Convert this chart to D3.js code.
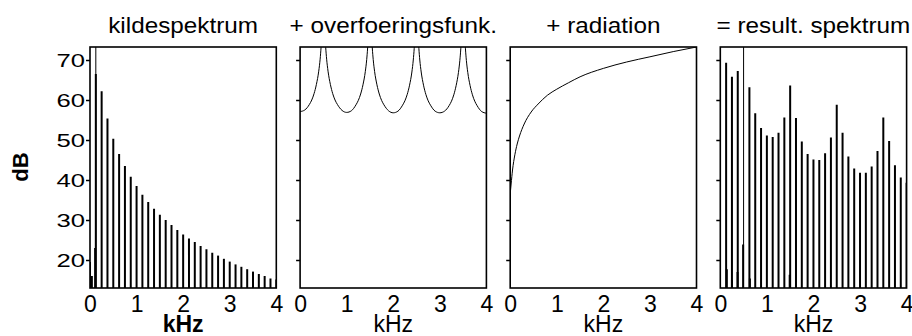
<!DOCTYPE html>
<html>
<head>
<meta charset="utf-8">
<script src="https://cdn.jsdelivr.net/npm/d3@7"></script>
<style>
	body { margin: 0; background: #fff; }
	svg { display: block; font-family: "Liberation Sans", Arial, sans-serif; }
</style>
</head>
<body>
<svg id="chart" width="912" height="336"></svg>
<script>
// panel titles
var titles = ["kildespektrum", "+ overfoeringsfunk.", "+ radiation", "= result. spektrum"];
var xTicks = [0, 1, 2, 3, 4];
var yTicks = [20, 30, 40, 50, 60, 70];

// harmonic frequencies (kHz), F0 = 125 Hz
var harmonics = [0.125, 0.25, 0.375, 0.5, 0.625, 0.75, 0.875, 1.0,
	1.125, 1.25, 1.375, 1.5, 1.625, 1.75, 1.875, 2.0,
	2.125, 2.25, 2.375, 2.5, 2.625, 2.75, 2.875, 3.0,
	3.125, 3.25, 3.375, 3.5, 3.625, 3.75, 3.875, 4.0];

// source spectrum (dB) at each harmonic
var sourceDb = [66.5, 62.2, 55.4, 50.3, 46.5, 43.5, 40.8, 38.5,
	36.3, 34.5, 32.8, 31.3, 30.0, 28.75, 27.5, 26.4,
	25.4, 24.5, 23.5, 22.7, 21.8, 21.1, 20.3, 19.6,
	18.9, 18.3, 17.7, 17.1, 16.5, 16.0, 15.4, 15.1];

// small low-frequency leakage lines in the source panel [kHz, dB]
var sourceLeak = [[0.0, 19.5], [0.04, 16], [0.11, 23], [0.125, 78]];

// resulting spectrum (dB) at each harmonic
var resultDb = [69.3, 65.8, 67.25, 80, 63.2, 56.7, 53.0, 51.1,
	50.75, 51.8, 55.6, 63.6, 55.5, 49.6, 46.5, 45.1,
	45.0, 46.7, 50.6, 58.8, 51.8, 45.9, 42.9, 41.8,
	41.8, 43.4, 47.25, 55.6, 49.75, 43.7, 40.6, 39.3];

var resultLeak = [[0.14, 17.7], [0.25, 15], [0.37, 17], [0.49, 23.9], [0.635, 15.4], [1.49, 16.3]];

// transfer function (kHz, dB)
var transferCurve = [
	[0, 57.1], [0.1, 57.5], [0.2, 58.9], [0.25, 60.0], [0.3, 61.6], [0.35, 63.9], [0.4, 67.2], [0.43, 70.2], [0.45, 73.1], [0.47, 77], [0.5, 85],
	[0.53, 77], [0.55, 73.1], [0.57, 70.2], [0.6, 67.2], [0.65, 63.9], [0.7, 61.6], [0.75, 60.0], [0.8, 58.9], [0.9, 57.4], [1.0, 56.9],
	[1.1, 57.3], [1.2, 58.8], [1.25, 59.9], [1.3, 61.5], [1.35, 63.8], [1.4, 67.1], [1.43, 70.1], [1.45, 73.0], [1.47, 77], [1.5, 85],
	[1.53, 77], [1.55, 73.0], [1.57, 70.1], [1.6, 67.1], [1.65, 63.8], [1.7, 61.5], [1.75, 59.9], [1.8, 58.8], [1.9, 57.3], [2.0, 56.8],
	[2.1, 57.2], [2.2, 58.7], [2.25, 59.8], [2.3, 61.4], [2.35, 63.7], [2.4, 67.0], [2.43, 70.0], [2.45, 72.9], [2.47, 77], [2.5, 85],
	[2.53, 77], [2.55, 72.9], [2.57, 70.0], [2.6, 67.0], [2.65, 63.7], [2.7, 61.4], [2.75, 59.8], [2.8, 58.7], [2.9, 57.2], [3.0, 56.8],
	[3.1, 57.2], [3.2, 58.6], [3.25, 59.7], [3.3, 61.3], [3.35, 63.6], [3.4, 66.9], [3.43, 69.9], [3.45, 72.8], [3.47, 77], [3.5, 85],
	[3.53, 77], [3.55, 72.8], [3.57, 69.9], [3.6, 66.9], [3.65, 63.6], [3.7, 61.3], [3.75, 59.7], [3.8, 58.6], [3.9, 57.1], [4.0, 56.7]
];

// radiation characteristic (kHz, dB)
var radiationCurve = [[0, 36.5], [0.02, 39], [0.05, 42.5], [0.1, 46.3], [0.15, 49], [0.2, 51], [0.3, 54],
	[0.45, 57], [0.6, 59], [0.8, 61.2], [1.0, 62.7], [1.25, 64.3], [1.5, 65.8], [2.0, 67.9],
	[2.5, 69.5], [3.0, 70.8], [3.5, 72.1], [4.0, 73.25]];

var PANEL_LEFT = 90, PANEL_STEP = 210.1, PANEL_W = 186.3;
var TOP = 47, BOTTOM = 288;

var svg = d3.select("#chart");

var x = d3.scaleLinear().domain([0, 4]).range([0, PANEL_W]);
var y = d3.scaleLinear().domain([13, 73.25]).range([BOTTOM, TOP]);

/*
Draw vertical spectrum lines
*/
function drawBars(g, pts, width) {
	g.selectAll(null).data(pts).enter().append("line")
		.attr("x1", function(d) { return x(d[0]); })
		.attr("x2", function(d) { return x(d[0]); })
		.attr("y1", y(13))
		.attr("y2", function(d) { return y(d[1]); })
		.attr("stroke", "#000")
		.attr("stroke-width", function(d) { return d[1] > 73.25 ? 1 : width; });
}

var line = d3.line()
	.x(function(d) { return x(d[0]); })
	.y(function(d) { return y(d[1]); })
	.curve(d3.curveMonotoneX);

titles.forEach(function(title, i) {
	var g = svg.append("g").attr("transform", "translate(" + (PANEL_LEFT + i * PANEL_STEP) + ",0)");

	g.append("clipPath").attr("id", "clip" + i)
		.append("rect").attr("x", 0).attr("y", TOP).attr("width", PANEL_W).attr("height", BOTTOM - TOP);

	var plot = g.append("g").attr("clip-path", "url(#clip" + i + ")");

	if (i === 0) {
		drawBars(plot, harmonics.map(function(f, k) { return [f, sourceDb[k]]; }), 2);
		drawBars(plot, sourceLeak, 2);
	} else if (i === 1) {
		plot.append("path").attr("d", line(transferCurve)).attr("fill", "none").attr("stroke", "#000").attr("stroke-width", 1);
	} else if (i === 2) {
		plot.append("path").attr("d", line(radiationCurve)).attr("fill", "none").attr("stroke", "#000").attr("stroke-width", 1);
	} else {
		drawBars(plot, harmonics.map(function(f, k) { return [f, resultDb[k]]; }), 2);
		drawBars(plot, resultLeak, 2);
	}

	// frame
	g.append("rect").attr("x", 0).attr("y", TOP).attr("width", PANEL_W).attr("height", BOTTOM - TOP)
		.attr("fill", "none").attr("stroke", "#000").attr("stroke-width", 1.6);

	// y axis
	var ya = g.append("g").call(d3.axisLeft(y).tickValues(yTicks).tickSize(4).tickPadding(1));
	ya.select(".domain").remove();
	ya.selectAll(".tick line").attr("stroke-width", 1.5);
	if (i === 0) {
		ya.selectAll(".tick text")
			.attr("x", null).attr("dy", "0.36em")
			.attr("transform", "translate(-5,0) scale(1.35,1)")
			.attr("font-size", 19).attr("font-family", "Liberation Sans, Arial, sans-serif").attr("fill", "#000");
	} else {
		ya.selectAll(".tick text").remove();
	}

	// x axis
	var xa = g.append("g").attr("transform", "translate(0," + BOTTOM + ")")
		.call(d3.axisBottom(x).tickValues(xTicks).tickFormat(d3.format("d")).tickSize(0).tickPadding(8));
	xa.select(".domain").remove();
	xa.selectAll(".tick text").attr("font-size", 23).attr("font-family", "Liberation Sans, Arial, sans-serif").attr("fill", "#000");

	// title
	g.append("text")
		.attr("transform", "translate(" + (PANEL_W / 2) + ",33) scale(1.13,1)")
		.attr("text-anchor", "middle").attr("font-size", 21.5).text(title);

	// x label
	g.append("text")
		.attr("x", PANEL_W / 2).attr("y", 332)
		.attr("text-anchor", "middle").attr("font-size", 23)
		.attr("font-weight", i === 0 ? "bold" : "normal").text("kHz");
});

// y label
svg.append("text")
	.attr("transform", "translate(28,167) rotate(-90)")
	.attr("text-anchor", "middle").attr("font-size", 22).attr("font-weight", "bold").text("dB");
</script>
</body>
</html>
